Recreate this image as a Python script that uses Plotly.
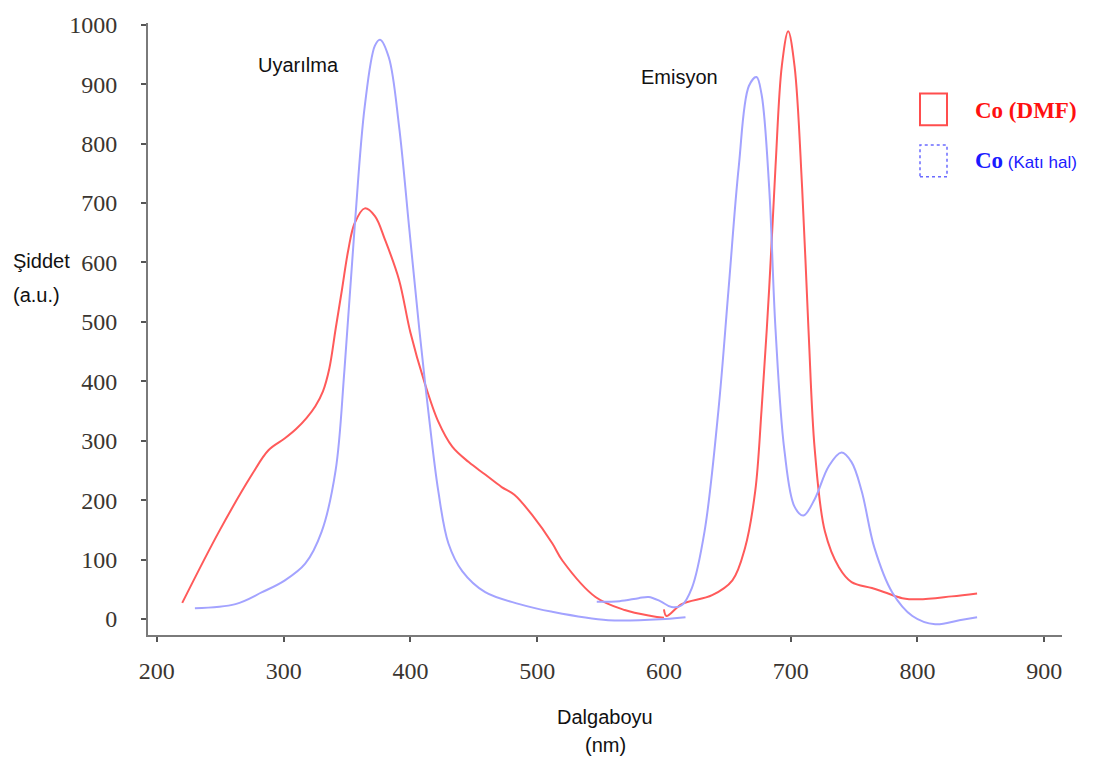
import plotly.graph_objects as go

# ---- data ----
red_exc_x = [220, 249, 275, 288, 301, 310, 318, 325, 331, 336, 341, 346, 351, 356, 364, 372, 380, 391, 400, 411, 422, 433, 446, 459, 472, 482, 496, 512, 520, 546, 569, 590, 600]
red_exc_y = [27, 147, 243, 284, 304, 320, 338, 358, 383, 421, 488, 554, 621, 666, 691, 678, 638, 571, 482, 399, 332, 290, 264, 243, 222, 209, 175, 127, 98, 37, 15, 5, 2]

red_em_x = [600, 602, 614, 638, 654, 664, 672, 677, 683, 688, 693, 698, 703, 709, 714, 719, 727, 738, 748, 764, 774, 788, 801, 827, 847]
red_em_y = [16, 5, 25, 40, 65, 120, 215, 352, 556, 761, 931, 989, 931, 726, 488, 284, 147, 87, 62, 52, 45, 35, 33, 38, 43]

blue_exc_x = [230, 262, 283, 301, 317, 330, 341, 348, 356, 364, 372, 376, 383, 391, 399, 407, 414, 422, 430, 441, 459, 486, 512, 556, 601, 617]
blue_exc_y = [18, 25, 45, 65, 93, 147, 250, 420, 659, 863, 965, 975, 945, 830, 659, 488, 352, 215, 127, 80, 45, 25, 12, -2, 0, 3]

blue_em_x = [547, 565, 580, 588, 597, 606, 614, 622, 632, 643, 651, 659, 667, 673, 677, 683, 688, 695, 703, 710, 719, 730, 740, 748, 756, 766, 780, 796, 814, 833, 847]
blue_em_y = [29, 30, 35, 37, 30, 20, 23, 52, 147, 352, 556, 761, 897, 912, 883, 726, 488, 284, 189, 174, 202, 257, 280, 264, 215, 120, 45, 5, -9, -2, 3]

x_ticks = [200, 300, 400, 500, 600, 700, 800, 900]
y_ticks = [0, 100, 200, 300, 400, 500, 600, 700, 800, 900, 1000]

RED = "#ff5a5a"
BLUE = "#a3a3ff"

fig = go.Figure()
for xs, ys, col in [(red_exc_x, red_exc_y, RED), (red_em_x, red_em_y, RED),
                    (blue_exc_x, blue_exc_y, BLUE), (blue_em_x, blue_em_y, BLUE)]:
    fig.add_trace(go.Scatter(x=xs, y=ys, mode="lines",
                             line=dict(color=col, width=2, shape="spline", smoothing=1.0),
                             showlegend=False, hoverinfo="skip"))

axis_common = dict(showgrid=False, zeroline=False, showline=True, linecolor="#7a7a7a",
                   linewidth=2, ticks="outside", tickcolor="#555", tickwidth=2, ticklen=5,
                   tickfont=dict(family="Liberation Serif", size=24, color="#3a3530"))

fig.update_xaxes(range=[193, 914], tickvals=x_ticks, ticklabelstandoff=8, **axis_common)
fig.update_yaxes(range=[-27, 1003], tickvals=y_ticks, ticklabelstandoff=19, **axis_common)

sans = "Liberation Sans"
T = dict(family=sans, size=20, color="#111")
PX = lambda px: (px - 148) / 914
PY = lambda py: (635 - py) / 617
ann = [
    dict(x=PX(298), y=PY(60), xref="paper", yref="paper", xanchor="center", yanchor="middle",
         text="Uyarılma", showarrow=False, font=T),
    dict(x=PX(679), y=PY(72), xref="paper", yref="paper", xanchor="center", yanchor="middle",
         text="Emisyon", showarrow=False, font=T),
    dict(x=PX(11), y=PY(258), xref="paper", yref="paper", xanchor="left", yanchor="middle",
         text="Şiddet", showarrow=False, font=T),
    dict(x=PX(11), y=PY(292), xref="paper", yref="paper", xanchor="left", yanchor="middle",
         text="(a.u.)", showarrow=False, font=T),
    dict(x=PX(605), y=PY(718), xref="paper", yref="paper", xanchor="center",
         yanchor="middle", text="Dalgaboyu", showarrow=False, font=T),
    dict(x=PX(605), y=PY(746), xref="paper", yref="paper", xanchor="center",
         yanchor="middle", text="(nm)", showarrow=False, font=T),
    dict(x=PX(973), y=PY(106), xref="paper", yref="paper", xanchor="left", yanchor="middle",
         text="<b>Co (DMF)</b>", showarrow=False,
         font=dict(family="Liberation Serif", size=23, color="#ff1010")),
    dict(x=PX(973), y=PY(157), xref="paper", yref="paper", xanchor="left", yanchor="middle",
         text="<b><span style='font-family:Liberation Serif;font-size:23px'>Co</span></b> (Katı hal)",
         showarrow=False,
         font=dict(family=sans, size=17, color="#1a1aff")),
]

shapes = [
    dict(type="rect", xref="paper", yref="paper",
         x0=PX(920), x1=PX(947), y0=PY(121), y1=PY(89),
         line=dict(color="#ff4d4d", width=2)),
    dict(type="rect", xref="paper", yref="paper",
         x0=PX(920), x1=PX(947), y0=PY(173), y1=PY(141),
         line=dict(color="#6b6bff", width=1.5, dash="dot")),
]

fig.update_layout(width=1104, height=760, margin=dict(l=148, r=42, t=18, b=125),
                  plot_bgcolor="white", paper_bgcolor="white",
                  annotations=ann, shapes=shapes, showlegend=False)

fig.write_html("out.html")
